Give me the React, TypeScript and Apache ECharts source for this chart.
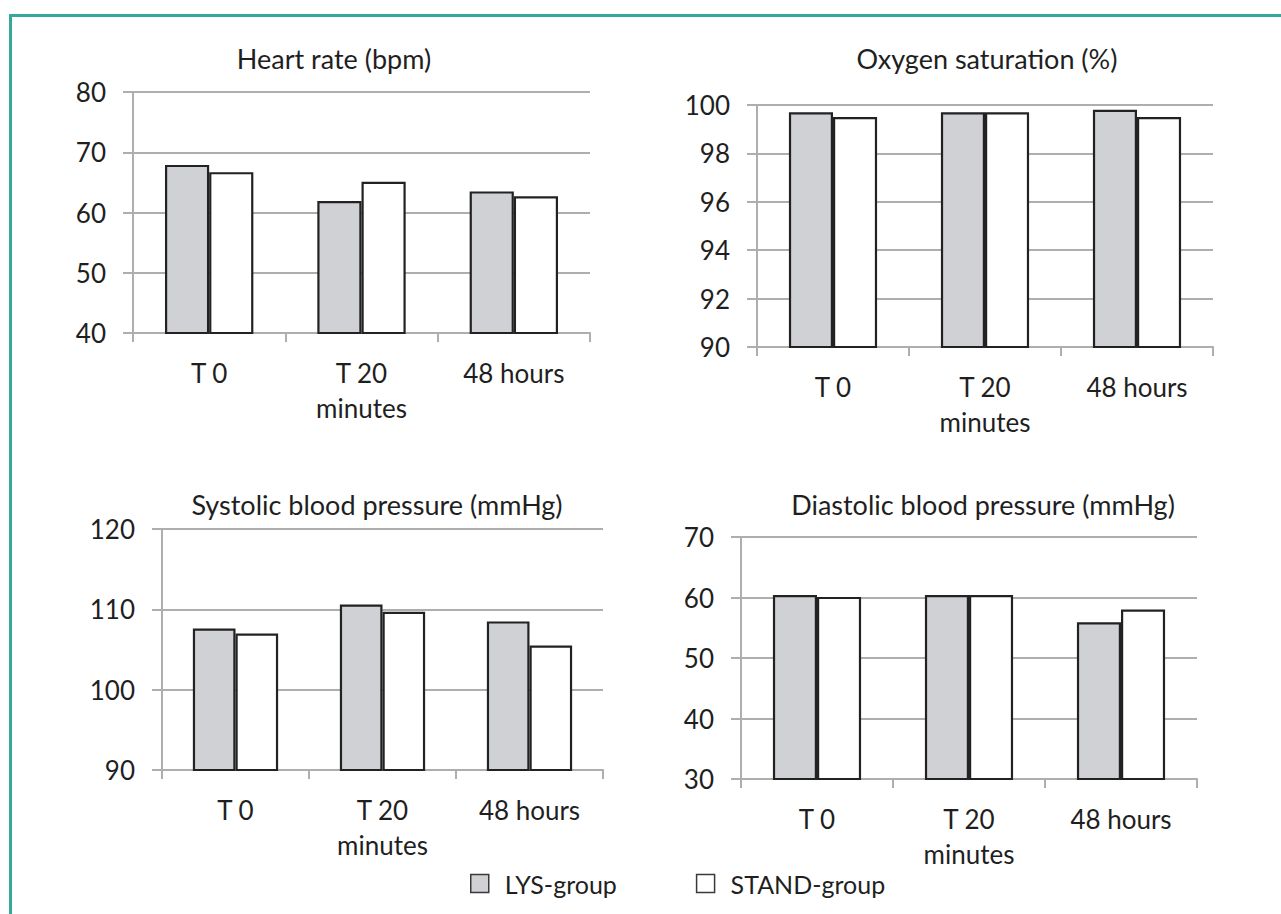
import React, { useEffect, useRef } from "react";
import * as echarts from "echarts";

const categories = ["T 0", "T 20\nminutes", "48 hours"];
const seriesNames = ["LYS-group", "STAND-group"];

const heartLys = [67.9, 61.9, 63.5];
const heartStand = [66.7, 65.1, 62.7];
const oxyLys = [99.7, 99.7, 99.8];
const oxyStand = [99.5, 99.7, 99.5];
const sysLys = [107.6, 110.6, 108.5];
const sysStand = [107.0, 109.7, 105.5];
const diaLys = [60.4, 60.4, 55.9];
const diaStand = [60.1, 60.4, 58.0];

const titles = [
  "Heart rate (bpm)",
  "Oxygen saturation (%)",
  "Systolic blood pressure (mmHg)",
  "Diastolic blood pressure (mmHg)",
];
const yMins = [40, 90, 90, 30];
const yMaxs = [80, 100, 120, 70];
const yIntervals = [10, 2, 10, 10];

const FONT = "Lato, 'Noto Sans', sans-serif";
const GRID_GRAY = "#aeaeae";
const TEXT = "#1f1f1f";
const LYS_FILL = "#d0d1d4";
const BAR_BORDER = "#222222";

export default function App() {
  const ref = useRef<HTMLDivElement>(null);

  useEffect(() => {
    if (!ref.current) return;
    const chart = echarts.init(ref.current, null, { renderer: "svg" });

    const grids = [
      { left: 133, top: 92, width: 457, height: 241 },
      { left: 757, top: 105, width: 456, height: 242 },
      { left: 162, top: 529, width: 441, height: 241 },
      { left: 741, top: 537, width: 456, height: 242 },
    ];
    const titlePos = [
      [334, 58],
      [987, 58],
      [377, 504],
      [983, 504],
    ];
    const data = [
      [heartLys, heartStand],
      [oxyLys, oxyStand],
      [sysLys, sysStand],
      [diaLys, diaStand],
    ];

    const xAxis = grids.map((_, i) => ({
      type: "category",
      gridIndex: i,
      data: categories,
      boundaryGap: true,
      axisLine: { show: true, lineStyle: { color: GRID_GRAY, width: 2 } },
      axisTick: { show: true, length: 9, lineStyle: { color: GRID_GRAY, width: 2 } },
      axisLabel: {
        color: TEXT,
        fontFamily: FONT,
        fontSize: 26,
        lineHeight: 35,
        margin: 22,
        interval: 0,
      },
      splitLine: { show: false },
    }));

    const yAxis = grids.map((_, i) => ({
      type: "value",
      gridIndex: i,
      min: yMins[i],
      max: yMaxs[i],
      interval: yIntervals[i],
      axisLine: { show: true, lineStyle: { color: GRID_GRAY, width: 2 } },
      axisTick: { show: true, length: 10, lineStyle: { color: GRID_GRAY, width: 2 } },
      axisLabel: { color: TEXT, fontFamily: FONT, fontSize: 26, margin: 27 },
      splitLine: { show: true, lineStyle: { color: GRID_GRAY, width: 2 } },
    }));

    const series: any[] = [];
    data.forEach((pair, i) => {
      pair.forEach((vals, j) => {
        series.push({
          type: "bar",
          name: seriesNames[j],
          xAxisIndex: i,
          yAxisIndex: i,
          data: vals,
          barGap: "0%",
          barCategoryGap: "42%",
          itemStyle: {
            color: j === 0 ? LYS_FILL : "#ffffff",
            borderColor: BAR_BORDER,
            borderWidth: 2.2,
          },
        });
      });
    });

    const graphic: any[] = [
      {
        type: "rect",
        shape: { x: 10.5, y: 15.5, width: 1400, height: 1000 },
        style: { fill: "none", stroke: "#35a999", lineWidth: 3 },
        silent: true,
      },
      ...titles.map((t, i) => ({
        type: "text",
        x: titlePos[i][0],
        y: titlePos[i][1],
        style: {
          text: t,
          fill: TEXT,
          font: `27px ${FONT}`,
          textAlign: "center",
          textVerticalAlign: "middle",
        },
      })),
    ];

    chart.setOption({
      animation: false,
      backgroundColor: "#ffffff",
      grid: grids,
      xAxis,
      yAxis,
      series,
      graphic,
      legend: {
        data: seriesNames,
        left: 465,
        top: 866,
        itemWidth: 18,
        itemHeight: 18,
        itemGap: 79,
        icon: "rect",
        selectedMode: false,
        itemStyle: { borderColor: "#3a3a3a", borderWidth: 1.5 },
        textStyle: {
          color: TEXT,
          fontFamily: FONT,
          fontSize: 25,
          padding: [0, 0, 0, 11],
        },
      },
    });

    return () => chart.dispose();
  }, []);

  return (
    <div
      ref={ref}
      style={{ position: "absolute", left: 0, top: 0, width: 1281, height: 914 }}
    />
  );
}
